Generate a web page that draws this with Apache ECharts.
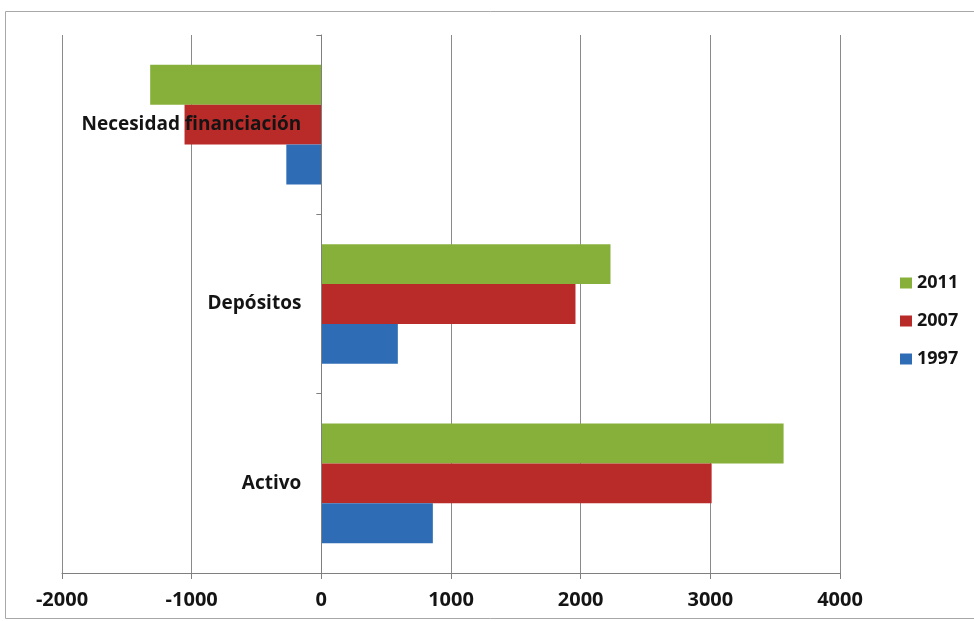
<!DOCTYPE html>
<html>
<head>
<meta charset="utf-8">
<script src="https://cdn.jsdelivr.net/npm/echarts@6/dist/echarts.min.js"></script>
<style>
  html, body { margin: 0; padding: 0; background: #fff; }
  #chart { width: 974px; height: 621px; }
</style>
</head>
<body>
<div id="chart"></div>
<script>
// Categories, bottom to top on the vertical axis
const categories = ['Activo', 'Depósitos', 'Necesidad financiación'];

// Values per year, in category order
const years = ['2011', '2007', '1997'];
const values1997 = [860, 590, -270];
const values2007 = [3010, 1960, -1055];
const values2011 = [3565, 2230, -1320];

// Value axis range and step
const axisMin = -2000;
const axisMax = 4000;
const axisStep = 1000;

const colors = { '1997': '#2e6db5', '2007': '#b92b28', '2011': '#87b03a' };
const seriesValues = { '1997': values1997, '2007': values2007, '2011': values2011 };

const gridLeft = 62;

const labelFont = {
  fontFamily: '"Open Sans", sans-serif',
  fontWeight: 'bold',
  color: '#141414'
};

const chart = echarts.init(document.getElementById('chart'), null, { renderer: 'canvas' });

chart.setOption({
  animation: false,
  backgroundColor: '#fff',
  graphic: [{
    type: 'rect',
    shape: { x: 5.5, y: 11.5, width: 975, height: 607 },
    style: { fill: 'none', stroke: '#a8a8a8', lineWidth: 1 },
    silent: true,
    z: -10
  }],
  grid: { left: gridLeft, right: 134, top: 35, bottom: 48, containLabel: false, outerBoundsMode: 'none' },
  legend: {
    orient: 'vertical',
    left: 900,
    top: 274,
    padding: 0,
    itemWidth: 12,
    itemHeight: 11,
    itemGap: 20,
    icon: 'rect',
    data: ['2011', '2007', '1997'],
    textStyle: Object.assign({}, labelFont, { fontSize: 18 })
  },
  xAxis: {
    type: 'value',
    min: axisMin,
    max: axisMax,
    interval: axisStep,
    axisLine: { show: true, lineStyle: { color: '#7f7f7f', width: 1 } },
    axisTick: { show: true, length: 6, lineStyle: { color: '#7f7f7f' } },
    axisLabel: Object.assign({}, labelFont, { fontSize: 20, margin: 17, formatter: v => String(v) }),
    splitLine: { show: true, lineStyle: { color: '#8a8a8a', width: 1 } }
  },
  yAxis: {
    type: 'category',
    data: categories,
    z: 5,
    axisLine: { show: true, onZero: false, lineStyle: { color: '#7f7f7f', width: 1 } },
    axisTick: { show: true, length: 5, lineStyle: { color: '#7f7f7f' } },
    axisLabel: Object.assign({}, labelFont, { fontSize: 19, margin: 20 }),
    splitLine: { show: false }
  },
  series: years.map(y => ({
    name: y,
    type: 'bar',
    data: seriesValues[y],
    itemStyle: { color: colors[y] },
    barGap: '0%',
    barCategoryGap: '33.3%'
  }))
});

// Place the category axis (line, ticks and labels) on the zero of the value axis
const zeroX = chart.convertToPixel({ xAxisIndex: 0 }, 0);
chart.setOption({ yAxis: { offset: gridLeft - zeroX } });
</script>
</body>
</html>
